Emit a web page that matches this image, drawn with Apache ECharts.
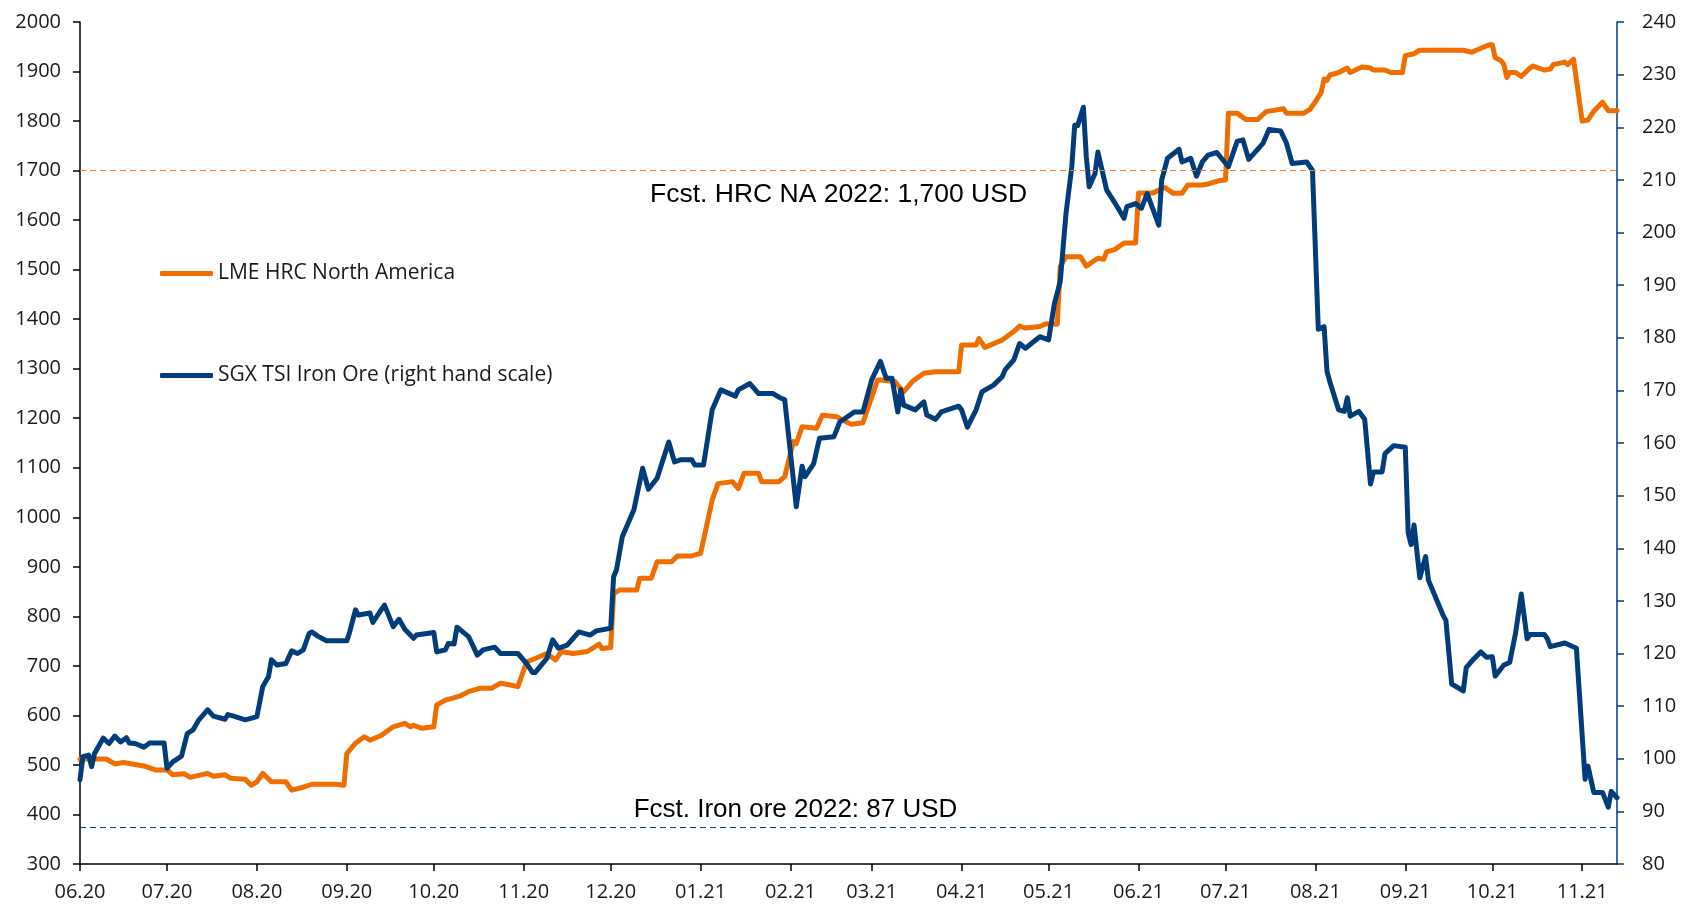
<!DOCTYPE html>
<html>
<head>
<meta charset="utf-8">
<title>LME HRC North America vs SGX TSI Iron Ore</title>
<script src="https://cdn.jsdelivr.net/npm/echarts@6/dist/echarts.min.js"></script>
<style>
  html, body { margin: 0; padding: 0; background: #fff; }
  #chart { width: 1683px; height: 904px; }
</style>
</head>
<body>
<div id="chart"></div>
<script>
// days are counted from 1 June 2020
const hrcDays = [0, 9, 12, 15, 22, 26, 30, 32, 36, 38, 44, 46, 50, 52, 57, 59, 61, 63, 66, 71, 73, 77, 80, 88, 91, 92, 95, 98, 100, 104,
  108, 112, 114, 115, 118, 122, 123, 126, 131, 134, 138, 142, 145, 148, 151, 154, 157, 161, 164, 166, 170, 175, 179, 180, 183, 184, 186,
  192, 193, 197, 199, 204, 206, 211, 214, 218, 220, 225, 227, 229, 234, 235, 241, 243, 246, 247, 249, 254, 256, 261, 263, 266, 270, 275,
  276, 281, 284, 287, 291, 295, 303, 304, 309, 310, 312, 318, 322, 324, 326, 331, 333, 337, 338, 340, 345, 347, 351, 353, 354, 357, 360,
  364, 365, 370, 374, 377, 380, 382, 387, 389, 393, 395, 396, 399, 402, 406, 409, 415, 416, 422, 424, 426, 428, 429, 430, 431, 434, 437,
  438, 442, 445, 446, 450, 452, 456, 457, 460, 462, 477, 480, 483, 486, 487, 488, 490, 491, 492, 493, 495, 497, 500, 501, 505, 507, 508,
  512, 513, 515, 518, 520, 522, 525, 527, 530];
const hrcValues = [512, 512, 502, 505, 498, 490, 490, 480, 482, 475, 483, 477, 480, 473, 471, 459, 466, 483, 466, 466, 449, 455, 461, 461,
  459, 523, 544, 557, 550, 560, 577, 584, 577, 580, 574, 577, 621, 631, 639, 648, 655, 655, 665, 662, 658, 708, 715, 725, 712, 729, 725,
  729, 744, 735, 737, 846, 853, 853, 877, 877, 910, 910, 922, 922, 927, 1035, 1068, 1072, 1058, 1089, 1089, 1072, 1072, 1082, 1153, 1149,
  1183, 1180, 1206, 1203, 1196, 1188, 1191, 1277, 1277, 1274, 1253, 1274, 1291, 1294, 1294, 1348, 1348, 1361, 1343, 1358, 1375, 1386,
  1382, 1385, 1391, 1390, 1506, 1526, 1526, 1507, 1523, 1521, 1536, 1541, 1554, 1554, 1655, 1655, 1666, 1654, 1654, 1671, 1671, 1673,
  1680, 1681, 1816, 1816, 1803, 1803, 1819, 1825, 1816, 1816, 1823, 1839, 1858, 1885, 1882, 1893, 1898, 1907, 1898, 1909, 1907, 1903,
  1903, 1898, 1898, 1932, 1936, 1943, 1943, 1939, 1947, 1954, 1954, 1928, 1922, 1914, 1888, 1898, 1898, 1890, 1907, 1911, 1903, 1905,
  1914, 1919, 1914, 1925, 1800, 1802, 1820, 1838, 1821, 1821];

const oreDays = [0, 1, 3, 4, 5, 8, 10, 12, 14, 16, 17, 19, 22, 24, 29, 30, 32, 35, 37, 39, 41, 44, 46, 50, 51, 53, 57, 61, 63, 65, 66, 68,
  71, 73, 75, 77, 79, 80, 82, 85, 92, 93, 95, 96, 100, 101, 103, 105, 108, 110, 112, 115, 116, 122, 123, 126, 127, 129, 130, 134, 137,
  139, 143, 145, 151, 154, 156, 157, 161, 163, 165, 168, 172, 176, 178, 183, 184, 185, 187, 191, 194, 196, 199, 203, 205, 207, 211, 212,
  215, 218, 221, 226, 227, 231, 234, 239, 241, 243, 247, 249, 250, 253, 255, 260, 262, 267, 270, 273, 276, 278, 280, 282, 283, 284, 288,
  291, 292, 295, 297, 303, 304, 306, 309, 311, 315, 318, 319, 322, 324, 326, 331, 334, 336, 338, 340, 342, 343, 344, 346, 347, 348, 350,
  351, 354, 357, 360, 361, 364, 366, 368, 372, 373, 375, 379, 380, 383, 385, 387, 389, 392, 396, 399, 401, 403, 408, 410, 414, 416, 418,
  423, 425, 427, 429, 430, 431, 434, 436, 437, 438, 441, 443, 445, 446, 449, 450, 453, 457, 458, 459, 460, 462, 464, 465, 470, 471, 473,
  477, 478, 480, 483, 485, 487, 488, 491, 493, 495, 497, 499, 500, 505, 506, 507, 512, 516, 519, 520, 522, 525, 527, 528, 530];
const oreValues = [96.0, 100.4, 100.7, 98.5, 101.0, 103.9, 102.9, 104.3, 103.2, 104.0, 103.0, 102.9, 102.2, 103.0, 103.0, 98.2, 99.4,
  100.5, 104.8, 105.5, 107.4, 109.3, 108.1, 107.5, 108.4, 108.1, 107.4, 108.0, 113.7, 115.6, 118.8, 117.8, 118.1, 120.5, 120.0, 120.7,
  123.8, 124.1, 123.3, 122.4, 122.4, 124.1, 128.3, 127.3, 127.7, 125.9, 127.6, 129.2, 125.1, 126.5, 124.6, 122.9, 123.5, 124.0, 120.3,
  120.7, 121.9, 121.8, 125.0, 123.2, 119.7, 120.7, 121.2, 120.0, 120.0, 118.1, 116.4, 116.4, 119.1, 122.6, 121.0, 121.6, 124.1, 123.5,
  124.3, 124.8, 134.6, 135.9, 142.2, 147.3, 155.2, 151.2, 153.3, 160.2, 156.4, 156.8, 156.8, 155.8, 155.8, 166.3, 170.1, 168.9, 170.1,
  171.3, 169.4, 169.4, 168.7, 168.2, 147.9, 155.6, 153.6, 156.1, 160.9, 161.2, 164.0, 165.9, 165.9, 172.0, 175.5, 172.3, 172.3, 165.9,
  170.1, 167.2, 166.3, 167.8, 165.3, 164.5, 165.9, 167.0, 166.3, 163.0, 166.3, 169.7, 171.0, 172.6, 173.9, 175.8, 178.9, 178.0, 180.2,
  179.6, 186.5, 190.6, 203.6, 212.5, 220.4, 220.3, 223.8, 214.4, 208.7, 211.2, 215.3, 208.1, 205.5, 202.7, 204.9, 205.5, 204.6, 207.4,
  201.4, 210.0, 214.1, 215.8, 213.4, 214.1, 210.7, 213.4, 214.7, 215.2, 212.5, 217.3, 217.6, 213.9, 217.0, 219.6, 219.3, 217.0, 213.1,
  213.4, 211.8, 181.6, 182.1, 173.6, 171.6, 166.3, 166.0, 168.6, 165.1, 166.0, 164.5, 152.2, 154.5, 154.5, 158.0, 159.5, 159.2, 142.9,
  140.7, 144.4, 134.4, 138.4, 133.9, 127.3, 126.3, 114.2, 112.9, 117.3, 118.6, 120.3, 119.3, 119.4, 115.7, 117.8, 118.3, 123.8, 131.3,
  122.8, 123.6, 123.6, 122.8, 121.3, 122.0, 121.0, 96.1, 98.6, 93.6, 93.6, 90.8, 93.8, 92.6];

const monthLabels = ['06.20', '07.20', '08.20', '09.20', '10.20', '11.20', '12.20', '01.21', '02.21', '03.21', '04.21', '05.21',
  '06.21', '07.21', '08.21', '09.21', '10.21', '11.21'];

const hrcForecast = 1700;
const oreForecast = 87;
const lastDay = 530;

const ORANGE = '#F06E00';
const BLUE = '#003D7A';
const FONT = 'Open Sans';

// day offset of the first of each labelled month
const DAY = 86400000;
const start = Date.UTC(2020, 5, 1);
const monthTickDays = monthLabels.map(s => {
  const [mm, yy] = s.split('.');
  return Math.round((Date.UTC(2000 + Number(yy), Number(mm) - 1, 1) - start) / DAY);
});
const fmtMonth = v => {
  const i = monthTickDays.indexOf(Math.round(v));
  return i >= 0 ? monthLabels[i] : '';
};

const chart = echarts.init(document.getElementById('chart'));

const option = {
  animation: false,
  backgroundColor: '#fff',
  grid: { left: 80, right: 66, top: 22, bottom: 40, containLabel: false },
  legend: {
    orient: 'vertical',
    left: 160,
    top: 263,
    icon: 'roundRect',
    itemWidth: 53,
    itemHeight: 5,
    itemGap: 81,
    padding: 0,
    textStyle: { fontSize: 21, color: '#1a1a1a', fontFamily: FONT },
    data: ['LME HRC North America', 'SGX TSI Iron Ore (right hand scale)']
  },
  xAxis: {
    type: 'value',
    min: 0,
    max: lastDay,
    axisLine: { show: true, lineStyle: { color: '#000', width: 1.5 } },
    axisTick: { show: true, length: 7, customValues: monthTickDays, lineStyle: { color: '#000', width: 1.5 } },
    axisLabel: {
      customValues: monthTickDays,
      formatter: fmtMonth,
      fontSize: 20,
      fontFamily: FONT,
      color: '#1a1a1a',
      margin: 18
    },
    splitLine: { show: false },
    minorTick: { show: false }
  },
  yAxis: [
    {
      type: 'value',
      position: 'left',
      min: 300,
      max: 2000,
      interval: 100,
      axisLine: { show: true, lineStyle: { color: '#000', width: 1.5 } },
      axisTick: { show: true, length: 7, lineStyle: { color: '#000', width: 1.5 } },
      axisLabel: { fontSize: 20, fontFamily: FONT, color: '#1a1a1a', margin: 19, formatter: v => String(v) },
      splitLine: { show: false }
    },
    {
      type: 'value',
      position: 'right',
      min: 80,
      max: 240,
      interval: 10,
      axisLine: { show: true, lineStyle: { color: BLUE, width: 1.5 } },
      axisTick: { show: true, length: 7, lineStyle: { color: BLUE, width: 1.5 } },
      axisLabel: { fontSize: 20, fontFamily: FONT, color: '#1a1a1a', margin: 25, formatter: v => String(v) },
      splitLine: { show: false }
    }
  ],
  series: [
    {
      name: 'LME HRC North America',
      type: 'line',
      yAxisIndex: 0,
      symbol: 'none',
      showSymbol: false,
      data: hrcDays.map((d, i) => [d, hrcValues[i]]),
      lineStyle: { color: ORANGE, width: 5, cap: 'round', join: 'round' },
      itemStyle: { color: ORANGE },
      emphasis: { disabled: true },
      markLine: {
        silent: true,
        symbol: ['none', 'none'],
        lineStyle: { color: '#F07A2A', type: [6, 4], width: 1 },
        label: {
          position: 'insideMiddleBottom',
          distance: 11,
          padding: [0, 20, 0, 0],
          formatter: 'Fcst. HRC NA 2022: 1,700 USD',
          fontFamily: 'Liberation Sans',
          fontSize: 26.5,
          color: '#000'
        },
        data: [{ yAxis: hrcForecast }]
      }
    },
    {
      name: 'SGX TSI Iron Ore (right hand scale)',
      type: 'line',
      yAxisIndex: 1,
      symbol: 'none',
      showSymbol: false,
      data: oreDays.map((d, i) => [d, oreValues[i]]),
      lineStyle: { color: BLUE, width: 5, cap: 'round', join: 'round' },
      itemStyle: { color: BLUE },
      emphasis: { disabled: true },
      markLine: {
        silent: true,
        symbol: ['none', 'none'],
        lineStyle: { color: BLUE, type: [6, 4], width: 1 },
        label: {
          position: 'insideMiddleTop',
          distance: 4,
          padding: [0, 106, 0, 0],
          formatter: 'Fcst. Iron ore 2022: 87 USD',
          fontFamily: 'Liberation Sans',
          fontSize: 26,
          color: '#000'
        },
        data: [{ yAxis: oreForecast }]
      }
    }
  ]
};

chart.setOption(option);
window.addEventListener('resize', () => chart.resize());
</script>
</body>
</html>
